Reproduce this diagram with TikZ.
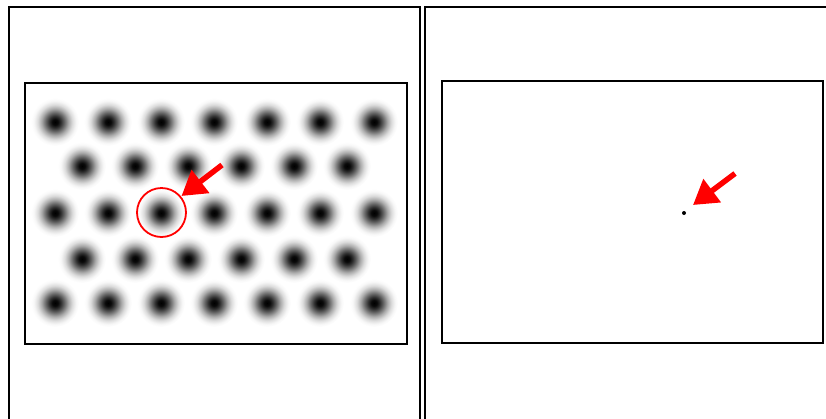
\documentclass[tikz,border=0pt]{standalone}
\usetikzlibrary{arrows.meta}
\pgfdeclareradialshading{blob}{\pgfpoint{0bp}{0bp}}{color(0bp)=(black); color(3bp)=(black!96); color(6bp)=(black!82); color(10bp)=(black!58); color(14bp)=(black!33); color(18bp)=(black!14); color(22bp)=(black!3); color(25bp)=(white); color(50bp)=(white)}
\tikzset{
  panel/.style={draw=black, line width=2pt},
  frame/.style={draw=black, line width=2pt},
  redarrow/.style={draw=red, line width=5.5pt, -{Triangle[length=24pt,width=28pt]}, red},
  mark circle/.style={draw=red, line width=1.8pt}
}
\begin{document}
\begin{tikzpicture}[x=1pt,y=-1pt]
\useasboundingbox (0,0) rectangle (826,418);
\clip (0,0) rectangle (826,418);
% outer panels
\draw[panel] (9,7) rectangle (420,430);
\draw[panel] (424.5,7) rectangle (840,430);
% inner frames
\draw[frame] (24.5,82.5) rectangle (406.5,343.5);
\draw[frame] (441.5,81) rectangle (823,342.5);
% blobs
\foreach \y in {122,213,303}{
  \foreach \x in {55,108,161,214,267,320,374}{
    \shade[shading=blob] (\x,\y) circle (24);
  }
}
\foreach \y in {166,259}{
  \foreach \x in {82,135,188,241,294,347}{
    \shade[shading=blob] (\x,\y) circle (24);
  }
}
% highlight circle
\draw[mark circle] (161.5,212.5) circle (24.5);
% arrows
\coordinate (a1s) at (222,165);
\coordinate (a1e) at (181.5,196);
\draw[redarrow] (a1s) -- (a1e);
\fill[black] (684,213) circle (2);
\coordinate (a2s) at (735,173.5);
\coordinate (a2e) at (693,205);
\draw[redarrow] (a2s) -- (a2e);
\end{tikzpicture}
\end{document}
